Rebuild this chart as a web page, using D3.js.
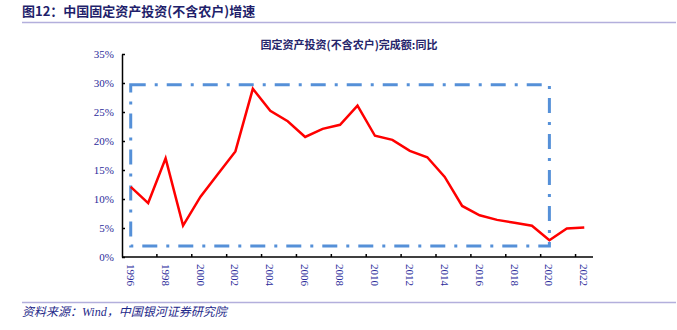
<!DOCTYPE html>
<html>
<head>
<meta charset="utf-8">
<script src="https://cdn.jsdelivr.net/npm/d3@7"></script>
<style>
  html, body { margin: 0; padding: 0; background: #fff; }
  svg { display: block; }
</style>
</head>
<body>
<svg id="chart" width="677" height="330"></svg>
<script>
// Fixed-asset investment (excluding rural households), YoY growth, %
const years = d3.range(1996, 2023).map(String);
const growth = [12.1, 9.3, 17.0, 5.4, 10.4, 14.3, 18.2, 29.0, 25.2, 23.4, 20.7, 22.1, 22.8, 26.1,
                20.9, 20.2, 18.3, 17.2, 13.8, 8.8, 7.2, 6.4, 5.9, 5.4, 2.9, 4.9, 5.1];
const yTicks = [0, 5, 10, 15, 20, 25, 30, 35];
const xLabelYears = years.filter((d, i) => i % 2 === 0);

// Highlighted period box: 1996–2020
const boxFrom = "1996", boxTo = "2020", boxTop = 29.7, boxBottom = 1.9;

const svg = d3.select("#chart");
const serif = "'Liberation Serif', 'Times New Roman', serif";
const cjk = "'Noto Sans CJK SC', sans-serif";

// Header
svg.append("text").attr("x", 22).attr("y", 16)
  .attr("font-family", cjk).attr("font-weight", "bold").attr("font-size", 13)
  .attr("fill", "#1f1f6b").text("图12：中国固定资产投资(不含农户)增速");
svg.append("line").attr("x1", 22).attr("x2", 676).attr("y1", 22.5).attr("y2", 22.5)
  .attr("stroke", "#b3afdc").attr("stroke-width", 1.5);

// Footer
svg.append("line").attr("x1", 22).attr("x2", 676).attr("y1", 302.5).attr("y2", 302.5)
  .attr("stroke", "#b3afdc").attr("stroke-width", 1.5);
svg.append("text").attr("x", 22).attr("y", 316)
  .attr("font-family", serif + ", " + cjk).attr("font-style", "italic").attr("font-size", 12)
  .attr("fill", "#1f2a8a").text("资料来源：Wind，中国银河证券研究院");

// Chart title
svg.append("text").attr("x", 349).attr("y", 49).attr("text-anchor", "middle")
  .attr("font-family", cjk).attr("font-weight", "bold").attr("font-size", 11)
  .attr("fill", "#25256b").text("固定资产投资(不含农户)完成额:同比");

const plotL = 122, plotR = 593, plotT = 54, plotB = 257;

const x = d3.scaleBand().domain(years).range([plotL, plotR]).padding(0);
const xc = d => x(d) + x.bandwidth() / 2;
const y = d3.scaleLinear().domain([0, 35]).range([plotB, plotT]);

// Y axis (ticks point inward)
const yAxis = svg.append("g").attr("transform", `translate(${plotL},0)`)
  .call(d3.axisRight(y).tickValues(yTicks).tickSize(3).tickSizeOuter(0).tickFormat(d => d + "%"));
yAxis.select(".domain").attr("stroke", "#000").attr("stroke-width", 1.5);
yAxis.selectAll(".tick line").attr("stroke", "#000").attr("stroke-width", 1.5);
yAxis.selectAll(".tick text").attr("x", -8).attr("text-anchor", "end")
  .attr("font-family", serif).attr("font-size", 11).attr("fill", "#2b2b9a");

// X axis: ticks every two categories, labels on even categories
const xAxis = svg.append("g").attr("transform", `translate(0,${plotB})`);
xAxis.append("line").attr("x1", plotL).attr("x2", plotR).attr("y1", 0).attr("y2", 0)
  .attr("stroke", "#000").attr("stroke-width", 1.5);
xAxis.selectAll("line.tk").data(years.filter((d, i) => i > 0 && i % 2 === 0))
  .join("line").attr("class", "tk")
  .attr("x1", d => x(d)).attr("x2", d => x(d)).attr("y1", 0).attr("y2", -3)
  .attr("stroke", "#000").attr("stroke-width", 1.5);
xAxis.selectAll("text").data(xLabelYears).join("text")
  .attr("transform", d => `translate(${xc(d) - 4},7) rotate(90)`)
  .attr("font-family", serif).attr("font-size", 11).attr("fill", "#2b2b9a")
  .text(d => d);

// Highlight box
svg.append("rect")
  .attr("x", xc(boxFrom)).attr("y", y(boxTop))
  .attr("width", xc(boxTo) - xc(boxFrom)).attr("height", y(boxBottom) - y(boxTop))
  .attr("fill", "none").attr("stroke", "#5590d8").attr("stroke-width", 3)
  .attr("stroke-dasharray", "15,9,3,9");

// Growth line
const line = d3.line().x((d, i) => xc(years[i])).y(d => y(d));
svg.append("path").datum(growth).attr("d", line)
  .attr("fill", "none").attr("stroke", "#ff0000").attr("stroke-width", 2.5)
  .attr("stroke-linejoin", "miter");
</script>
</body>
</html>
